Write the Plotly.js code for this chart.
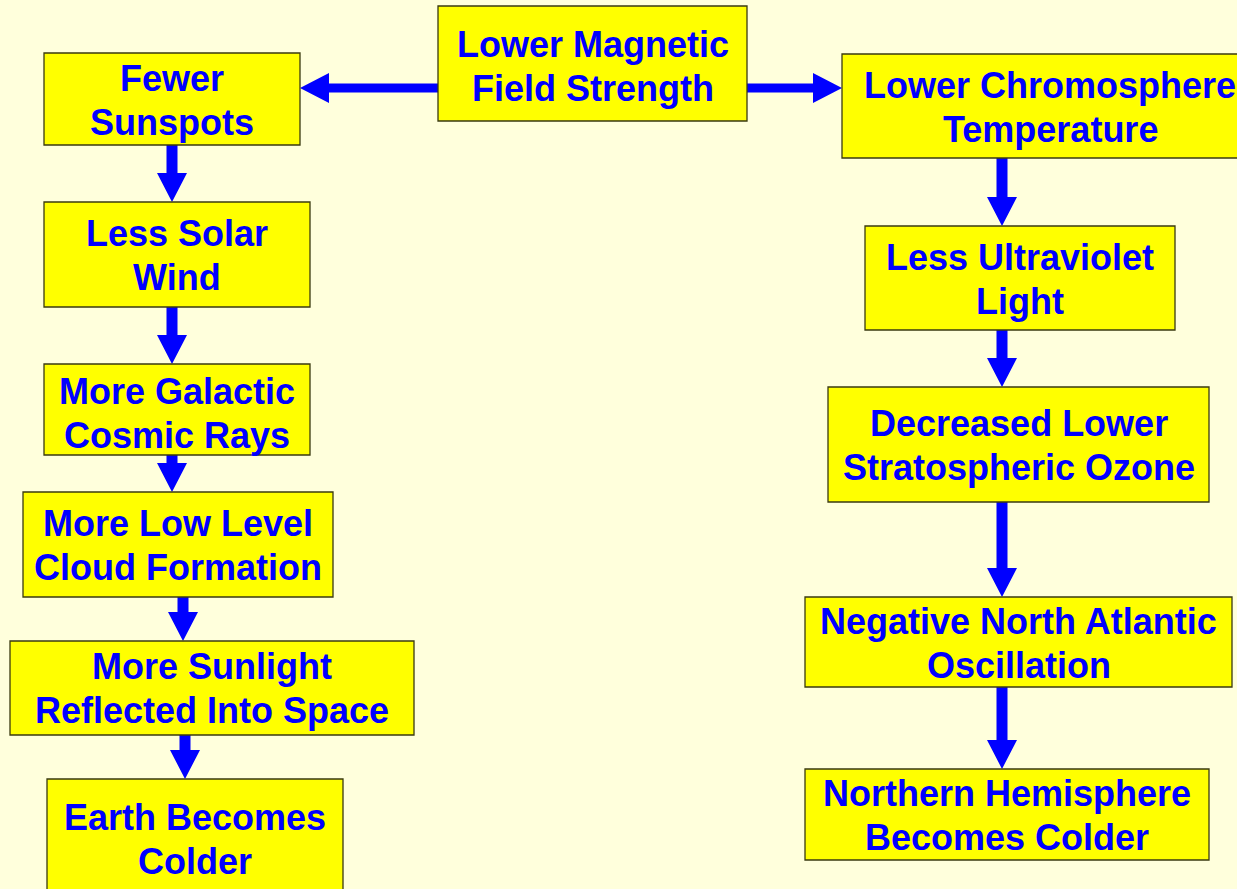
<!DOCTYPE html>
<html>
<head>
<meta charset="utf-8">
<script src="https://cdn.plot.ly/plotly-3.0.1.min.js"></script>
<style>
  html, body { margin: 0; padding: 0; background: #FFFFDC; }
  #chart { width: 1237px; height: 889px; }
</style>
</head>
<body>
<div id="chart"></div>
<script>
// ---- content (data) ----
const boxLabels = [
  "Lower Magnetic<br>Field Strength",
  "Fewer<br>Sunspots",
  "Less Solar<br>Wind",
  "More Galactic<br>Cosmic Rays",
  "More Low Level<br>Cloud Formation",
  "More Sunlight<br>Reflected Into Space",
  "Earth Becomes<br>Colder",
  "Lower Chromosphere<br>Temperature",
  "Less Ultraviolet<br>Light",
  "Decreased Lower<br>Stratospheric Ozone",
  "Negative North Atlantic<br>Oscillation",
  "Northern Hemisphere<br>Becomes Colder"
];
const edgeFrom = [0, 0, 1, 2, 3, 4, 5, 7, 8, 9, 10];
const edgeTo   = [1, 7, 2, 3, 4, 5, 6, 8, 9, 10, 11];

// ---- layout geometry (pixel-like diagram units) ----
const boxGeom = [
  [438, 747, 6, 121],
  [44, 300, 53, 145],
  [44, 310, 202, 307],
  [44, 310, 364, 455],
  [23, 333, 492, 597],
  [10, 414, 641, 735],
  [47, 343, 779, 900],
  [842, 1258, 54, 158],
  [865, 1175, 226, 330],
  [828, 1209, 387, 502],
  [805, 1232, 597, 687],
  [805, 1209, 769, 860]
];
const textShiftY = [3, 1, 1, 4, 1, 0, 0, 1, 1, 1, 1, 1];
// cross-axis position for each edge's arrow
const edgeAxisPos = [88, 88, 172, 172, 172, 183, 185, 1002, 1002, 1002, 1002];

const style = {
  bg: "#FFFFDC",
  boxFill: "#FFFF00",
  boxLine: "#3a3a10",
  arrow: "#0000FF",
  text: "#0000FF",
  font: "Liberation Sans, Arial, Helvetica, sans-serif",
  fontSize: 36,
  lineGap: 44,
  shaftHalf: 5.5,
  headHalf: 15,
  headLen: 29
};

const shapes = [];
const annotations = [];

// arrows
edgeFrom.forEach((f, i) => {
  const a = boxGeom[f], b = boxGeom[edgeTo[i]];
  const p = edgeAxisPos[i];
  const w = style.shaftHalf, hw = style.headHalf, hl = style.headLen;
  let path;
  if (b[2] >= a[3]) {
    const ya = a[3], yb = b[2];
    path = `M${p-w},${ya} L${p+w},${ya} L${p+w},${yb-hl} L${p+hw},${yb-hl} L${p},${yb} L${p-hw},${yb-hl} L${p-w},${yb-hl} Z`;
  } else {
    let xa, xb, s;
    if (b[0] >= a[1]) { xa = a[1]; xb = b[0]; s = 1; }
    else { xa = a[0]; xb = b[1]; s = -1; }
    const wh = 4.5;
    path = `M${xa},${p-wh} L${xb - s*hl},${p-wh} L${xb - s*hl},${p-hw} L${xb},${p} L${xb - s*hl},${p+hw} L${xb - s*hl},${p+wh} L${xa},${p+wh} Z`;
  }
  shapes.push({
    type: "path", xref: "x", yref: "y", path: path,
    fillcolor: style.arrow, line: { width: 0 }, layer: "above"
  });
});

// boxes + text
boxLabels.forEach((lab, i) => {
  const g = boxGeom[i];
  shapes.push({
    type: "rect", xref: "x", yref: "y",
    x0: g[0], x1: g[1], y0: g[2], y1: g[3],
    fillcolor: style.boxFill, line: { color: style.boxLine, width: 1.3 }, layer: "above"
  });
  const lines = lab.split("<br>");
  const cx = (g[0] + g[1]) / 2, cy = (g[2] + g[3]) / 2 + textShiftY[i];
  lines.forEach((ln, k) => {
    annotations.push({
      xref: "x", yref: "y",
      x: cx, y: cy + (k - (lines.length - 1) / 2) * style.lineGap,
      text: "<b>" + ln + "</b>",
      showarrow: false, xanchor: "center", yanchor: "middle",
      font: { family: style.font, size: style.fontSize, color: style.text }
    });
  });
});

const layout = {
  width: 1237, height: 889,
  margin: { l: 0, r: 0, t: 0, b: 0, pad: 0 },
  paper_bgcolor: style.bg, plot_bgcolor: style.bg,
  xaxis: { range: [0, 1237], visible: false, fixedrange: true },
  yaxis: { range: [889, 0], visible: false, fixedrange: true },
  showlegend: false,
  shapes: shapes,
  annotations: annotations
};

Plotly.newPlot("chart", [], layout, { staticPlot: true, displayModeBar: false });
</script>
</body>
</html>
